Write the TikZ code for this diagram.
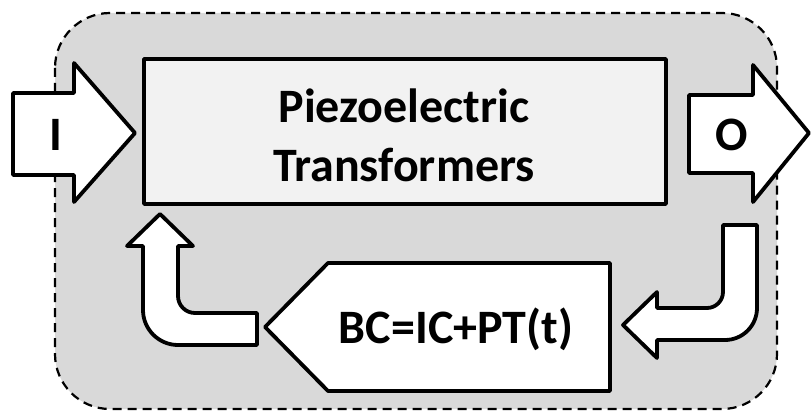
\documentclass[tikz,border=0pt]{standalone}
\usepackage{fontspec}
\setmainfont{Carlito}
\definecolor{panel}{HTML}{D9D9D9}
\definecolor{boxfill}{HTML}{F2F2F2}
\begin{document}
\begin{tikzpicture}[x=1pt,y=-1pt,
  blk/.style={draw=black,line width=3.8pt,line join=round},
  lbl/.style={font=\bfseries\fontsize{48}{59}\selectfont,inner sep=0pt,align=center},
  border/.style={draw=black,line width=2.2pt,dash pattern=on 9pt off 6pt,fill=panel}]
\useasboundingbox (0,0) rectangle (812,412);
% panel
\draw[border,rounded corners=55pt] (55,13) rectangle (777,409);
% main box
\node[blk,fill=boxfill,minimum width=522pt,minimum height=145pt,inner sep=0pt] (pt) at (405,131.5) {};
\node[lbl] (ptlabel) at (404,135) {Piezoelectric\\Transformers};
% feedback pentagon
\path[blk,fill=white] (610,263) -- (328,263) -- (265,327) -- (328,391) -- (610,391) -- cycle;
\node[lbl] (bc) at (456,329) {BC=IC+PT(t)};
% input arrow
\path[blk,fill=white] (13,93) -- (74,93) -- (74,63) -- (135,133) -- (74,202) -- (74,175) -- (13,175) -- cycle;
\node[lbl] (in) at (56,135) {I};
% output arrow
\path[blk,fill=white] (689,95) -- (753,95) -- (753,65) -- (809,133) -- (753,202) -- (753,173) -- (689,173) -- cycle;
\node[lbl] (out) at (732,135) {O};
% right U-turn arrow
\path[blk,fill=white] (723,225) -- (757,225) -- (757,308)
  .. controls (757,325.7) and (742.7,340) .. (725,340)
  -- (657,340) -- (657,358) -- (623,325) -- (657,292) -- (657,308) -- (707,308)
  .. controls (715.8,308) and (723,300.8) .. (723,292) -- cycle;
% left U-turn arrow
\path[blk,fill=white] (160,214) -- (193,246) -- (178,246) -- (178,296)
  .. controls (178,305.4) and (185.6,313) .. (195,313)
  -- (257,313) -- (257,345) -- (178,345)
  .. controls (158.7,345) and (143,329.3) .. (143,310)
  -- (143,246) -- (127,246) -- cycle;
\end{tikzpicture}
\end{document}
